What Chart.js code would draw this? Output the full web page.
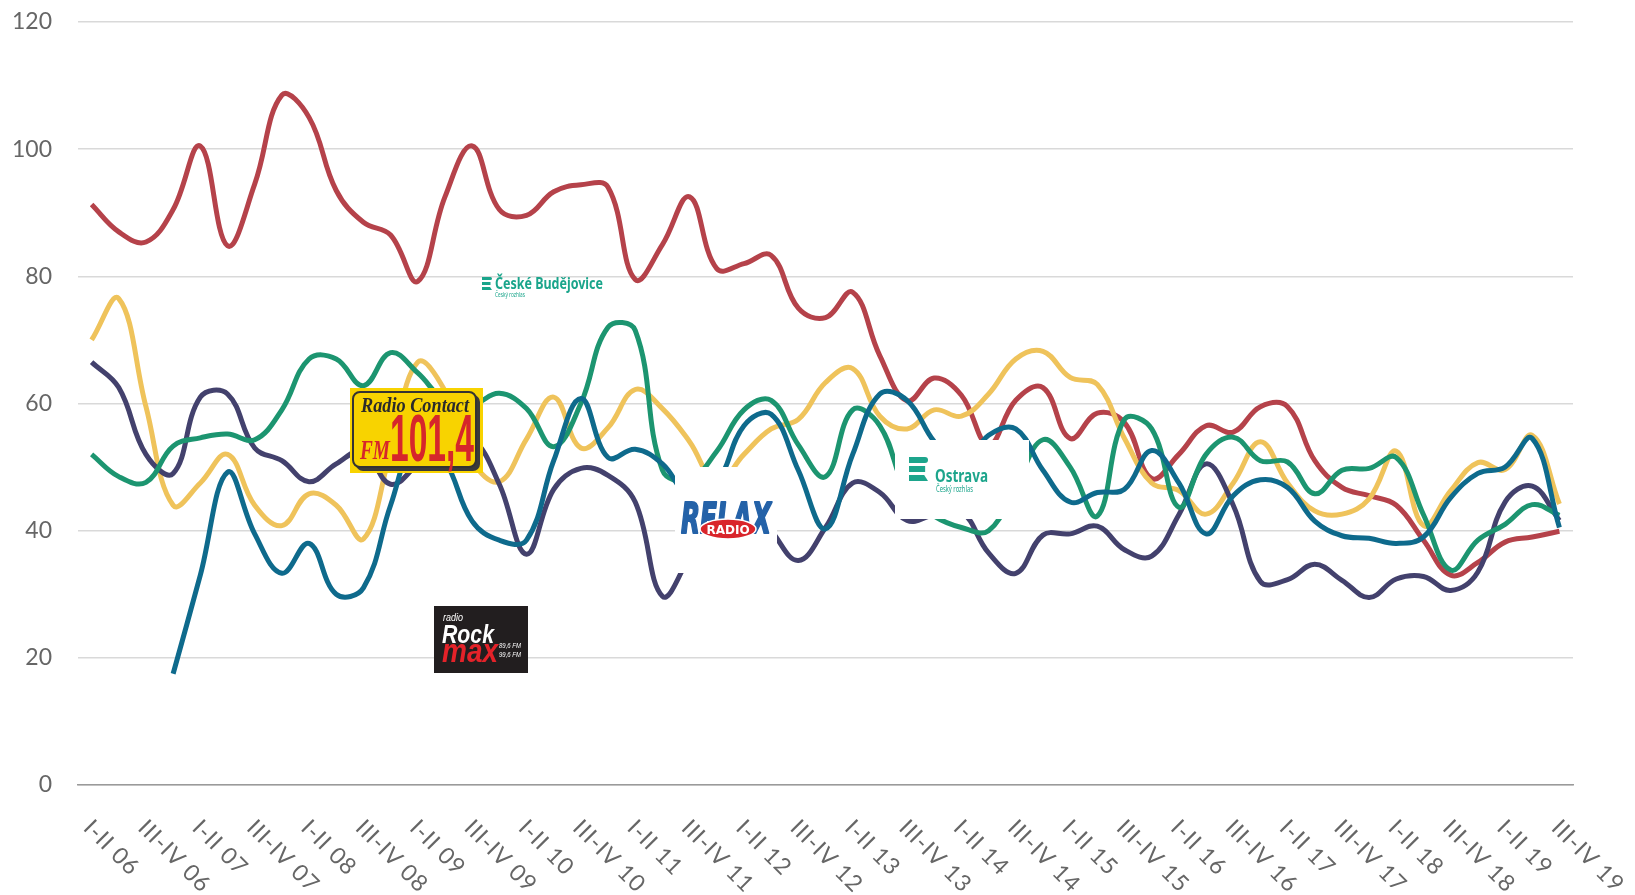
<!DOCTYPE html>
<html>
<head>
<meta charset="utf-8">
<script src="https://cdn.jsdelivr.net/npm/chart.js@4.4.1/dist/chart.umd.min.js"></script>
<style>
  html, body { margin: 0; padding: 0; background: #fff; }
  #wrap { width: 1635px; height: 895px; }
</style>
</head>
<body>
<div id="wrap"><canvas id="chart" width="1635" height="895"></canvas></div>
<script>
// rolling half-year periods, one point per quarter
const periods = [
  'I-II 06','II-III 06','III-IV 06','IV 06-I 07',
  'I-II 07','II-III 07','III-IV 07','IV 07-I 08',
  'I-II 08','II-III 08','III-IV 08','IV 08-I 09',
  'I-II 09','II-III 09','III-IV 09','IV 09-I 10',
  'I-II 10','II-III 10','III-IV 10','IV 10-I 11',
  'I-II 11','II-III 11','III-IV 11','IV 11-I 12',
  'I-II 12','II-III 12','III-IV 12','IV 12-I 13',
  'I-II 13','II-III 13','III-IV 13','IV 13-I 14',
  'I-II 14','II-III 14','III-IV 14','IV 14-I 15',
  'I-II 15','II-III 15','III-IV 15','IV 15-I 16',
  'I-II 16','II-III 16','III-IV 16','IV 16-I 17',
  'I-II 17','II-III 17','III-IV 17','IV 17-I 18',
  'I-II 18','II-III 18','III-IV 18','IV 18-I 19',
  'I-II 19','II-III 19','III-IV 19'
];

const redSeries = [91.3, 87, 85.4, 90.5, 100.5, 84.8, 94.5, 108.5, 105, 93.5,
  88.5, 86.5, 79.2, 92.5, 100.5, 90.5, 89.6, 93.3, 94.4, 94,
  79.5, 85, 92.5, 81.2, 82, 83.3, 75, 73.5, 77.5, 67.5,
  60.4, 64, 61.3, 53.5, 60.5, 62.5, 54.5, 58.5, 57, 48.2,
  52, 56.5, 55.5, 59.5, 59.5, 51, 46.8, 45.5, 44, 38.5,
  33, 35, 38.2, 39, 39.9];

const yellowSeries = [70, 76.5, 59.5, 44, 47.5, 52, 44, 40.8, 45.8, 44,
  38.7, 52.5, 66.5, 62, 51, 47.7, 54.4, 61, 53, 56.2,
  62.2, 59.2, 54, 47.5, 52, 56, 57.5, 63.3, 65.5, 58,
  56, 59, 58, 61.5, 67, 68.2, 64.1, 63, 54.5, 47.5,
  46.3, 42.6, 47.5, 54, 47.5, 43.1, 42.6, 45, 52.5, 40.8,
  46.3, 50.7, 49.6, 55, 44.2];

const navySeries = [66.5, 62.5, 52, 49, 61, 61.5, 53, 51, 47.7, 50.5,
  52.5, 47.3, 50.5, 54.5, 54.5, 47.3, 36.3, 46.5, 49.8, 48.7,
  44.5, 29.7, 36, 44, 45, 40, 35.3, 40.5, 47.5, 46,
  41.6, 42.5, 43, 36.5, 33.3, 39.3, 39.5, 40.7, 37, 36,
  42.5, 50.5, 44, 32, 32.3, 34.7, 32.2, 29.5, 32.4, 32.8,
  30.6, 33.5, 44.5, 47, 41.6];

const greenSeries = [52, 48.5, 47.6, 53.3, 54.6, 55.2, 54.3, 59, 67, 67,
  62.8, 68, 64.8, 60.5, 59.8, 61.6, 59.2, 53.2, 60, 72,
  71.5, 49.5, 48, 52.5, 59, 60.5, 53.5, 48.5, 59, 56.5,
  46, 42.3, 40.5, 40, 47, 54.3, 50, 42.3, 57.5, 56,
  43.7, 52, 54.7, 51, 50.8, 45.8, 49.5, 49.8, 51.5, 42.5,
  33.8, 38.5, 41, 44.1, 42.4];

const blueSeries = [null, null, null, 17.5, 33, 49.2, 39.5, 33.3, 38, 30,
  31, 44, 55, 51, 41.5, 38.5, 38.5, 51, 60.8, 51.5,
  52.8, 50.5, 45.5, 47.5, 56.5, 58.3, 49.5, 40.3, 52, 61.5,
  60.5, 54, 50, 55, 56, 49.5, 44.5, 46, 46.5, 52.6,
  47.5, 39.5, 45.5, 48, 46.8, 41.5, 39.2, 38.8, 38, 39,
  45.2, 49, 50, 54.5, 40.5];

const yTickStep = 20;
const yMax = 120;

const axisFamily = 'Lato, "Open Sans", sans-serif';
const axisColor = '#666666';

// x labels: every other period, rotated down to the right like the original
const slantedLabels = {
  id: 'slantedLabels',
  afterDraw(chart) {
    const ctx = chart.ctx;
    const xs = chart.scales.x;
    const y0 = chart.chartArea.bottom;
    ctx.save();
    ctx.font = '23px ' + axisFamily;
    ctx.letterSpacing = '1px';
    ctx.fillStyle = axisColor;
    ctx.textAlign = 'left';
    ctx.textBaseline = 'middle';
    periods.forEach((p, i) => {
      if (i % 2) return;
      const x = xs.getPixelForValue(i);
      ctx.save();
      ctx.translate(x - 4, y0 + 39);
      ctx.rotate(Math.PI / 4);
      ctx.fillText(p, 0, 0);
      ctx.restore();
    });
    ctx.restore();
  }
};

// squeeze text horizontally into a given width
function fitText(ctx, text, x, y, w) {
  const m = ctx.measureText(text).width;
  ctx.save();
  ctx.translate(x, y);
  ctx.scale(w / m, 1);
  ctx.fillText(text, 0, 0);
  ctx.restore();
}

function croBars(ctx, x, y, w, h, gap) {
  ctx.beginPath();
  ctx.roundRect(x, y, w, h, [0, h / 2, h / 2, 0]);
  ctx.fill();
  ctx.fillRect(x, y + h + gap, w * 0.85, h);
  ctx.beginPath();
  ctx.moveTo(x, y + 2 * (h + gap));
  ctx.lineTo(x + w * 0.8, y + 2 * (h + gap));
  ctx.lineTo(x + w, y + 3 * h + 2 * gap);
  ctx.lineTo(x, y + 3 * h + 2 * gap);
  ctx.closePath();
  ctx.fill();
}

// station logos pasted over the plot
const stationLogos = {
  id: 'stationLogos',
  afterDatasetsDraw(chart) {
    const ctx = chart.ctx;
    ctx.save();
    ctx.textAlign = 'left';
    ctx.textBaseline = 'alphabetic';

    // CRo Ceske Budejovice
    ctx.fillStyle = '#1aa58b';
    croBars(ctx, 482, 277, 10, 3, 2);
    ctx.font = 'bold 16px "Noto Sans", Roboto, sans-serif';
    fitText(ctx, 'České Budějovice', 495, 289, 108);
    ctx.font = '7px "Noto Sans", sans-serif';
    fitText(ctx, 'Český rozhlas', 495, 297, 30);

    // Radio Contact FM 101,4
    ctx.fillStyle = '#f8d300';
    ctx.fillRect(350, 388, 133, 85);
    ctx.fillStyle = '#3a3a3a';
    ctx.beginPath();
    ctx.roundRect(356, 395, 124, 76, 7);
    ctx.fill();
    ctx.fillStyle = '#f8d300';
    ctx.strokeStyle = '#333';
    ctx.lineWidth = 2;
    ctx.beginPath();
    ctx.roundRect(353, 392, 123, 75, 7);
    ctx.fill();
    ctx.stroke();
    ctx.fillStyle = '#2b2b2b';
    ctx.font = 'bold italic 21px "Liberation Serif", "DejaVu Serif", serif';
    fitText(ctx, 'Radio Contact', 361, 412, 108);
    ctx.fillStyle = '#d6262b';
    ctx.font = 'bold italic 28px "Liberation Serif", serif';
    fitText(ctx, 'FM', 360, 459, 30);
    ctx.font = 'bold 66px "Liberation Sans", sans-serif';
    fitText(ctx, '101,4', 390, 461, 84);

    // radio Rock max
    ctx.fillStyle = '#221e1f';
    ctx.fillRect(434, 606, 94, 67);
    ctx.fillStyle = '#ffffff';
    ctx.font = 'italic 10px "Liberation Sans", sans-serif';
    fitText(ctx, 'radio', 443, 621, 20);
    ctx.font = 'bold italic 26px "Liberation Sans", sans-serif';
    fitText(ctx, 'Rock', 442, 643, 52);
    ctx.font = 'italic 7px "Liberation Sans", sans-serif';
    fitText(ctx, '89,6 FM', 499, 648, 22);
    fitText(ctx, '99,6 FM', 499, 657, 22);
    ctx.fillStyle = '#e42229';
    ctx.font = 'bold italic 34px "Liberation Sans", sans-serif';
    fitText(ctx, 'max', 442, 662, 56);

    // Relax radio
    ctx.fillStyle = '#ffffff';
    ctx.fillRect(675, 467, 102, 106);
    ctx.fillStyle = '#2462a8';
    ctx.strokeStyle = '#2462a8';
    ctx.lineWidth = 2;
    ctx.lineJoin = 'round';
    ctx.font = 'bold italic 42px "DejaVu Sans", sans-serif';
    ctx.save();
    ctx.translate(681, 533);
    const rw = ctx.measureText('RELAX').width;
    ctx.scale(90 / rw, 1);
    ctx.strokeText('RELAX', 0, 0);
    ctx.fillText('RELAX', 0, 0);
    ctx.restore();
    ctx.beginPath();
    ctx.ellipse(728, 529, 28, 10, 0, 0, Math.PI * 2);
    ctx.fillStyle = '#d9252b';
    ctx.fill();
    ctx.strokeStyle = '#ffffff';
    ctx.lineWidth = 1.5;
    ctx.stroke();
    ctx.fillStyle = '#ffffff';
    ctx.font = 'bold 12px "DejaVu Sans", sans-serif';
    ctx.textAlign = 'center';
    ctx.fillText('RADIO', 728, 534);
    ctx.textAlign = 'left';

    // CRo Ostrava
    ctx.fillStyle = '#ffffff';
    ctx.fillRect(895, 440, 134, 79);
    ctx.fillStyle = '#1da58c';
    croBars(ctx, 909, 457, 19, 6, 3);
    ctx.font = 'bold 17px "Noto Sans", Roboto, sans-serif';
    fitText(ctx, 'Ostrava', 935, 482, 53);
    ctx.font = '9px "Noto Sans", sans-serif';
    fitText(ctx, 'Český rozhlas', 936, 492, 37);

    ctx.restore();
  }
};

function lineSet(data, color) {
  return {
    data: data,
    borderColor: color,
    backgroundColor: color,
    borderWidth: 5,
    pointRadius: 0,
    tension: 0.4,
    fill: false,
    spanGaps: false
  };
}

new Chart(document.getElementById('chart'), {
  type: 'line',
  data: {
    labels: periods,
    // first dataset is drawn on top
    datasets: [
      lineSet(blueSeries, '#0e6a8c'),
      lineSet(greenSeries, '#1c9570'),
      lineSet(navySeries, '#43416d'),
      lineSet(yellowSeries, '#efc35b'),
      lineSet(redSeries, '#b5424a')
    ]
  },
  options: {
    responsive: false,
    devicePixelRatio: 1,
    animation: false,
    layout: { padding: { top: 22, right: 62, left: 0, bottom: 0 } },
    plugins: { legend: { display: false }, tooltip: { enabled: false } },
    scales: {
      x: {
        offset: true,
        grid: { display: false },
        border: { display: true, color: '#9a9a9a', width: 1.5 },
        ticks: { display: false },
        afterFit(scale) { scale.height = 110; }
      },
      y: {
        min: 0,
        max: yMax,
        ticks: {
          stepSize: yTickStep,
          padding: 26,
          color: axisColor,
          font: { family: axisFamily, size: 23 }
        },
        grid: { color: '#d9d9d9', lineWidth: 1.5, drawTicks: false },
        border: { display: false },
        afterFit(scale) {
          scale.width = 78;
          // the tick padding is only meant for the horizontal gap
          scale.paddingTop = 0;
          scale.paddingBottom = 0;
        }
      }
    }
  },
  plugins: [slantedLabels, stationLogos]
});
</script>
</body>
</html>
